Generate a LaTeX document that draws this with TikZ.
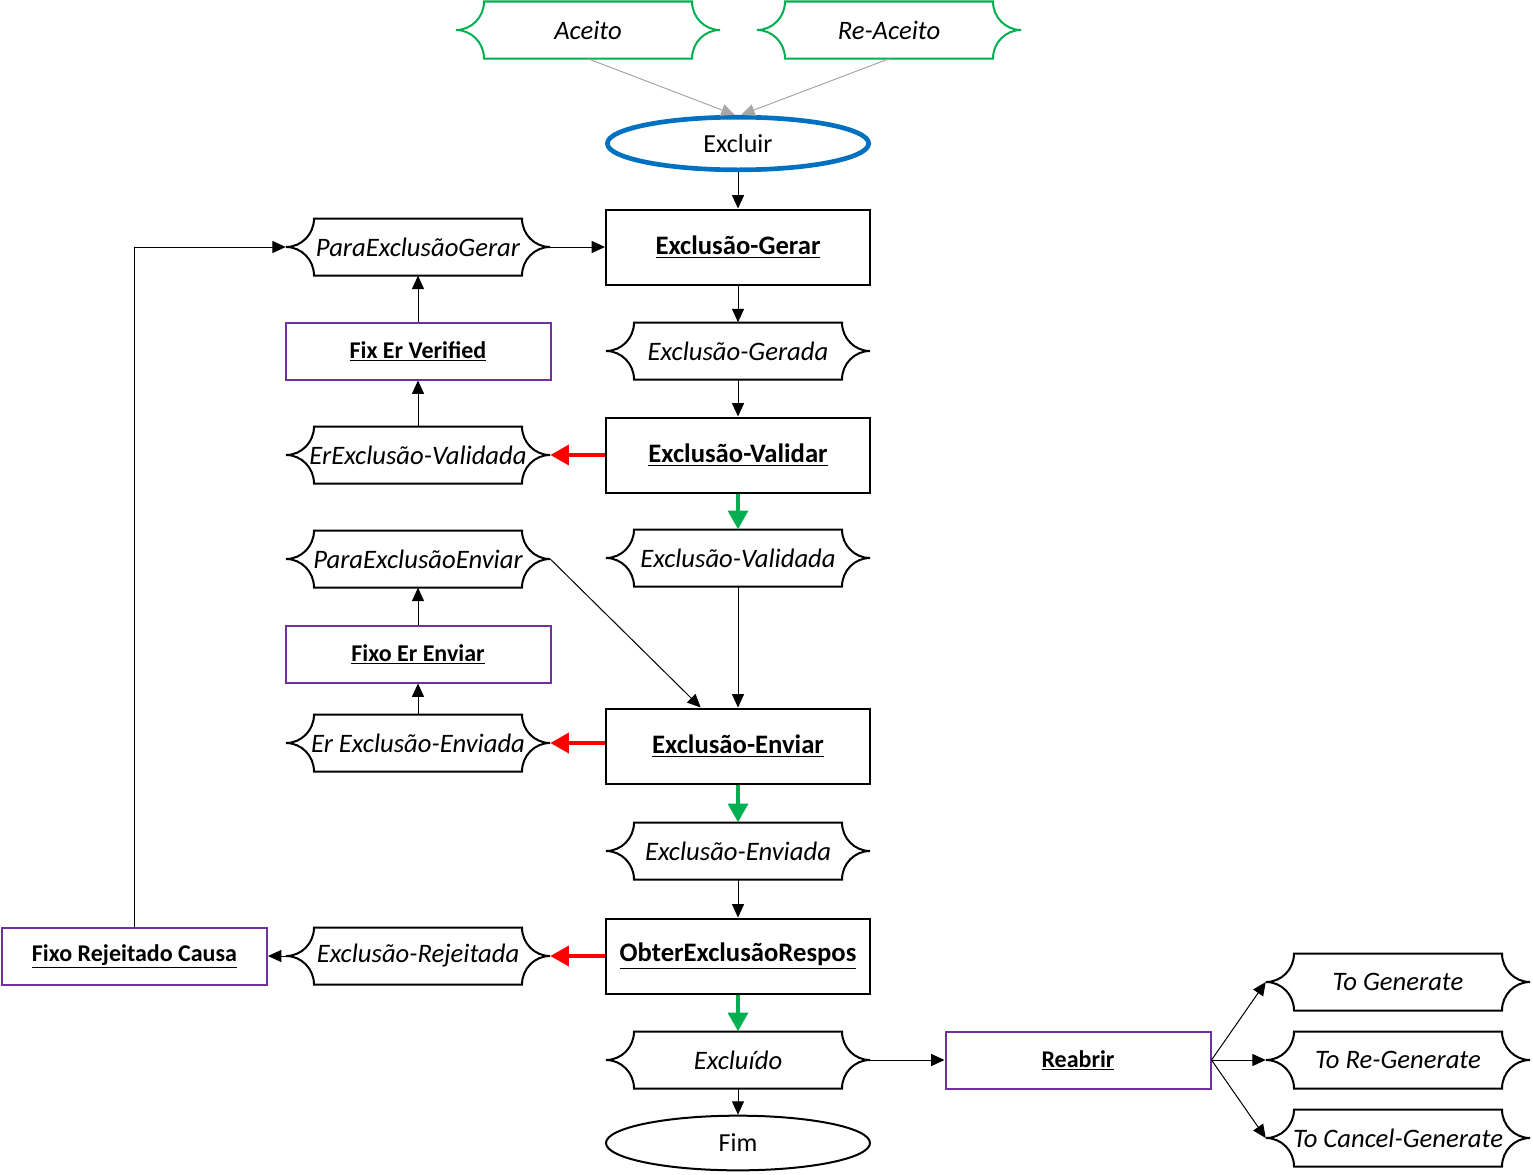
\documentclass[tikz,border=0pt]{standalone}
\usepackage{fontspec}
\setmainfont{Carlito}
\usetikzlibrary{arrows.meta,shapes.geometric,calc}
\definecolor{grn}{HTML}{00B050}
\definecolor{prp}{HTML}{7030A0}
\definecolor{blu}{HTML}{0070C0}
\definecolor{gry}{HTML}{A6A6A6}
\definecolor{rd}{HTML}{FF0000}
\newcommand\stshape[3]{%
  \draw[line width=1.5pt,#3] ({#1-104},{#2-28.5}) -- ({#1+104},{#2-28.5})
    .. controls ({#1+104},{#2-12.8}) and ({#1+116.5},{#2}) .. ({#1+132},{#2})
    .. controls ({#1+116.5},{#2}) and ({#1+104},{#2+12.8}) .. ({#1+104},{#2+28.5})
    -- ({#1-104},{#2+28.5})
    .. controls ({#1-104},{#2+12.8}) and ({#1-116.5},{#2}) .. ({#1-132},{#2})
    .. controls ({#1-116.5},{#2}) and ({#1-104},{#2-12.8}) .. cycle;}
\newcommand\mkstate[5]{% name, cx, cy, text, color
  \node[stnode] (#1) at (#2,#3) {#4};
  \stshape{#2}{#3}{#5}}
\begin{document}
\begin{tikzpicture}[x=0.75pt,y=-0.75pt,
  every node/.style={font=\fontsize{19.5pt}{23pt}\selectfont},
  stnode/.style={draw=none,minimum width=198pt,minimum height=42.75pt,inner sep=0pt,font=\fontsize{20pt}{23pt}\selectfont\itshape},
  procbox/.style={draw,line width=1.5pt,minimum width=198pt,minimum height=56.25pt,inner sep=0pt,font=\fontsize{20pt}{23pt}\selectfont\bfseries},
  fixbox/.style={draw=prp,line width=1.5pt,minimum width=198.75pt,minimum height=42.75pt,inner sep=0pt,font=\fontsize{18pt}{22pt}\selectfont\bfseries},
  arr/.style={-{Triangle[length=10pt,width=9pt]},line width=0.75pt,black},
  grayarr/.style={-{Triangle[length=10pt,width=9pt]},line width=0.75pt,gry},
  redarr/.style={-{Triangle[length=14pt,width=15pt]},line width=2.6pt,rd},
  grnarr/.style={-{Triangle[length=14pt,width=15pt]},line width=2.6pt,grn}]
\useasboundingbox (0,0) rectangle (1533,1174);

\mkstate{aceito}{588}{30}{Aceito}{grn}
\mkstate{reaceito}{889}{30}{Re-Aceito}{grn}
\node[ellipse,draw=blu,line width=3.5pt,minimum width=196pt,minimum height=39.5pt,inner sep=0pt] (excluir) at (738,143.5) {Excluir};

\node[procbox] (gerar) at (738,247) {\underline{Exclusão-Gerar}};
\mkstate{paragerar}{418}{247}{ParaExclusãoGerar}{black}
\mkstate{gerada}{738}{351}{Exclusão-Gerada}{black}
\node[fixbox] (fixver) at (418,351) {\underline{Fix Er Verified}};
\node[procbox] (validar) at (738,455) {\underline{Exclusão-Validar}};
\mkstate{ervalidada}{418}{455}{ErExclusão-Validada}{black}
\mkstate{validada}{738}{558}{Exclusão-Validada}{black}
\mkstate{paraenviar}{418}{559}{ParaExclusãoEnviar}{black}
\node[fixbox] (fixenviar) at (418,654) {\underline{Fixo Er Enviar}};
\mkstate{erenviada}{418}{743}{Er Exclusão-Enviada}{black}
\node[procbox] (enviar) at (738,746) {\underline{Exclusão-Enviar}};
\mkstate{enviada}{738}{851}{Exclusão-Enviada}{black}
\node[procbox] (obter) at (738,956) {\underline{ObterExclusãoRespos}};
\mkstate{rejeitada}{418}{956}{Exclusão-Rejeitada}{black}
\node[fixbox] (fixrej) at (134.5,956) {\underline{Fixo Rejeitado Causa}};
\mkstate{excluido}{738}{1060}{Excluído}{black}
\node[ellipse,draw,line width=1.5pt,minimum width=198pt,minimum height=41pt,inner sep=0pt] (fim) at (738,1143) {Fim};
\node[fixbox] (reabrir) at (1078,1060) {\underline{Reabrir}};
\mkstate{togen}{1398}{982}{To Generate}{black}
\mkstate{toregen}{1398}{1060}{To Re-Generate}{black}
\mkstate{tocancel}{1398}{1138}{To Cancel-Generate}{black}

% connectors
\draw[grayarr] (aceito.south) -- ([xshift=-2.5pt]excluir.north);
\draw[grayarr] (reaceito.south) -- ([xshift=2.5pt]excluir.north);
\draw[arr] (excluir.south) -- (gerar.north);
\draw[arr] (paragerar.east) -- (gerar.west);
\draw[arr] (gerar.south) -- (gerada.north);
\draw[arr] (gerada.south) -- (validar.north);
\draw[arr] (fixver.north) -- (paragerar.south);
\draw[arr] (ervalidada.north) -- (fixver.south);
\draw[redarr] (validar.west) -- (ervalidada.east);
\draw[grnarr] (validar.south) -- (validada.north);
\draw[arr] (validada.south) -- (enviar.north);
\draw[arr] (paraenviar.east) -- ([xshift=-28pt]enviar.north);
\draw[arr] (fixenviar.north) -- (paraenviar.south);
\draw[arr] (erenviada.north) -- (fixenviar.south);
\draw[redarr] (enviar.west |- erenviada.east) -- (erenviada.east);
\draw[grnarr] (enviar.south) -- (enviada.north);
\draw[arr] (enviada.south) -- (obter.north);
\draw[redarr] (obter.west) -- (rejeitada.east);
\draw[arr] (rejeitada.west) -- (fixrej.east);
\draw[arr] (fixrej.north) |- (paragerar.west);
\draw[grnarr] (obter.south) -- (excluido.north);
\draw[arr] (excluido.south) -- (fim.north);
\draw[arr] (excluido.east) -- (reabrir.west);
\draw[arr] (reabrir.east) -- (togen.west);
\draw[arr] (reabrir.east) -- (toregen.west);
\draw[arr] (reabrir.east) -- (tocancel.west);
\end{tikzpicture}
\end{document}
